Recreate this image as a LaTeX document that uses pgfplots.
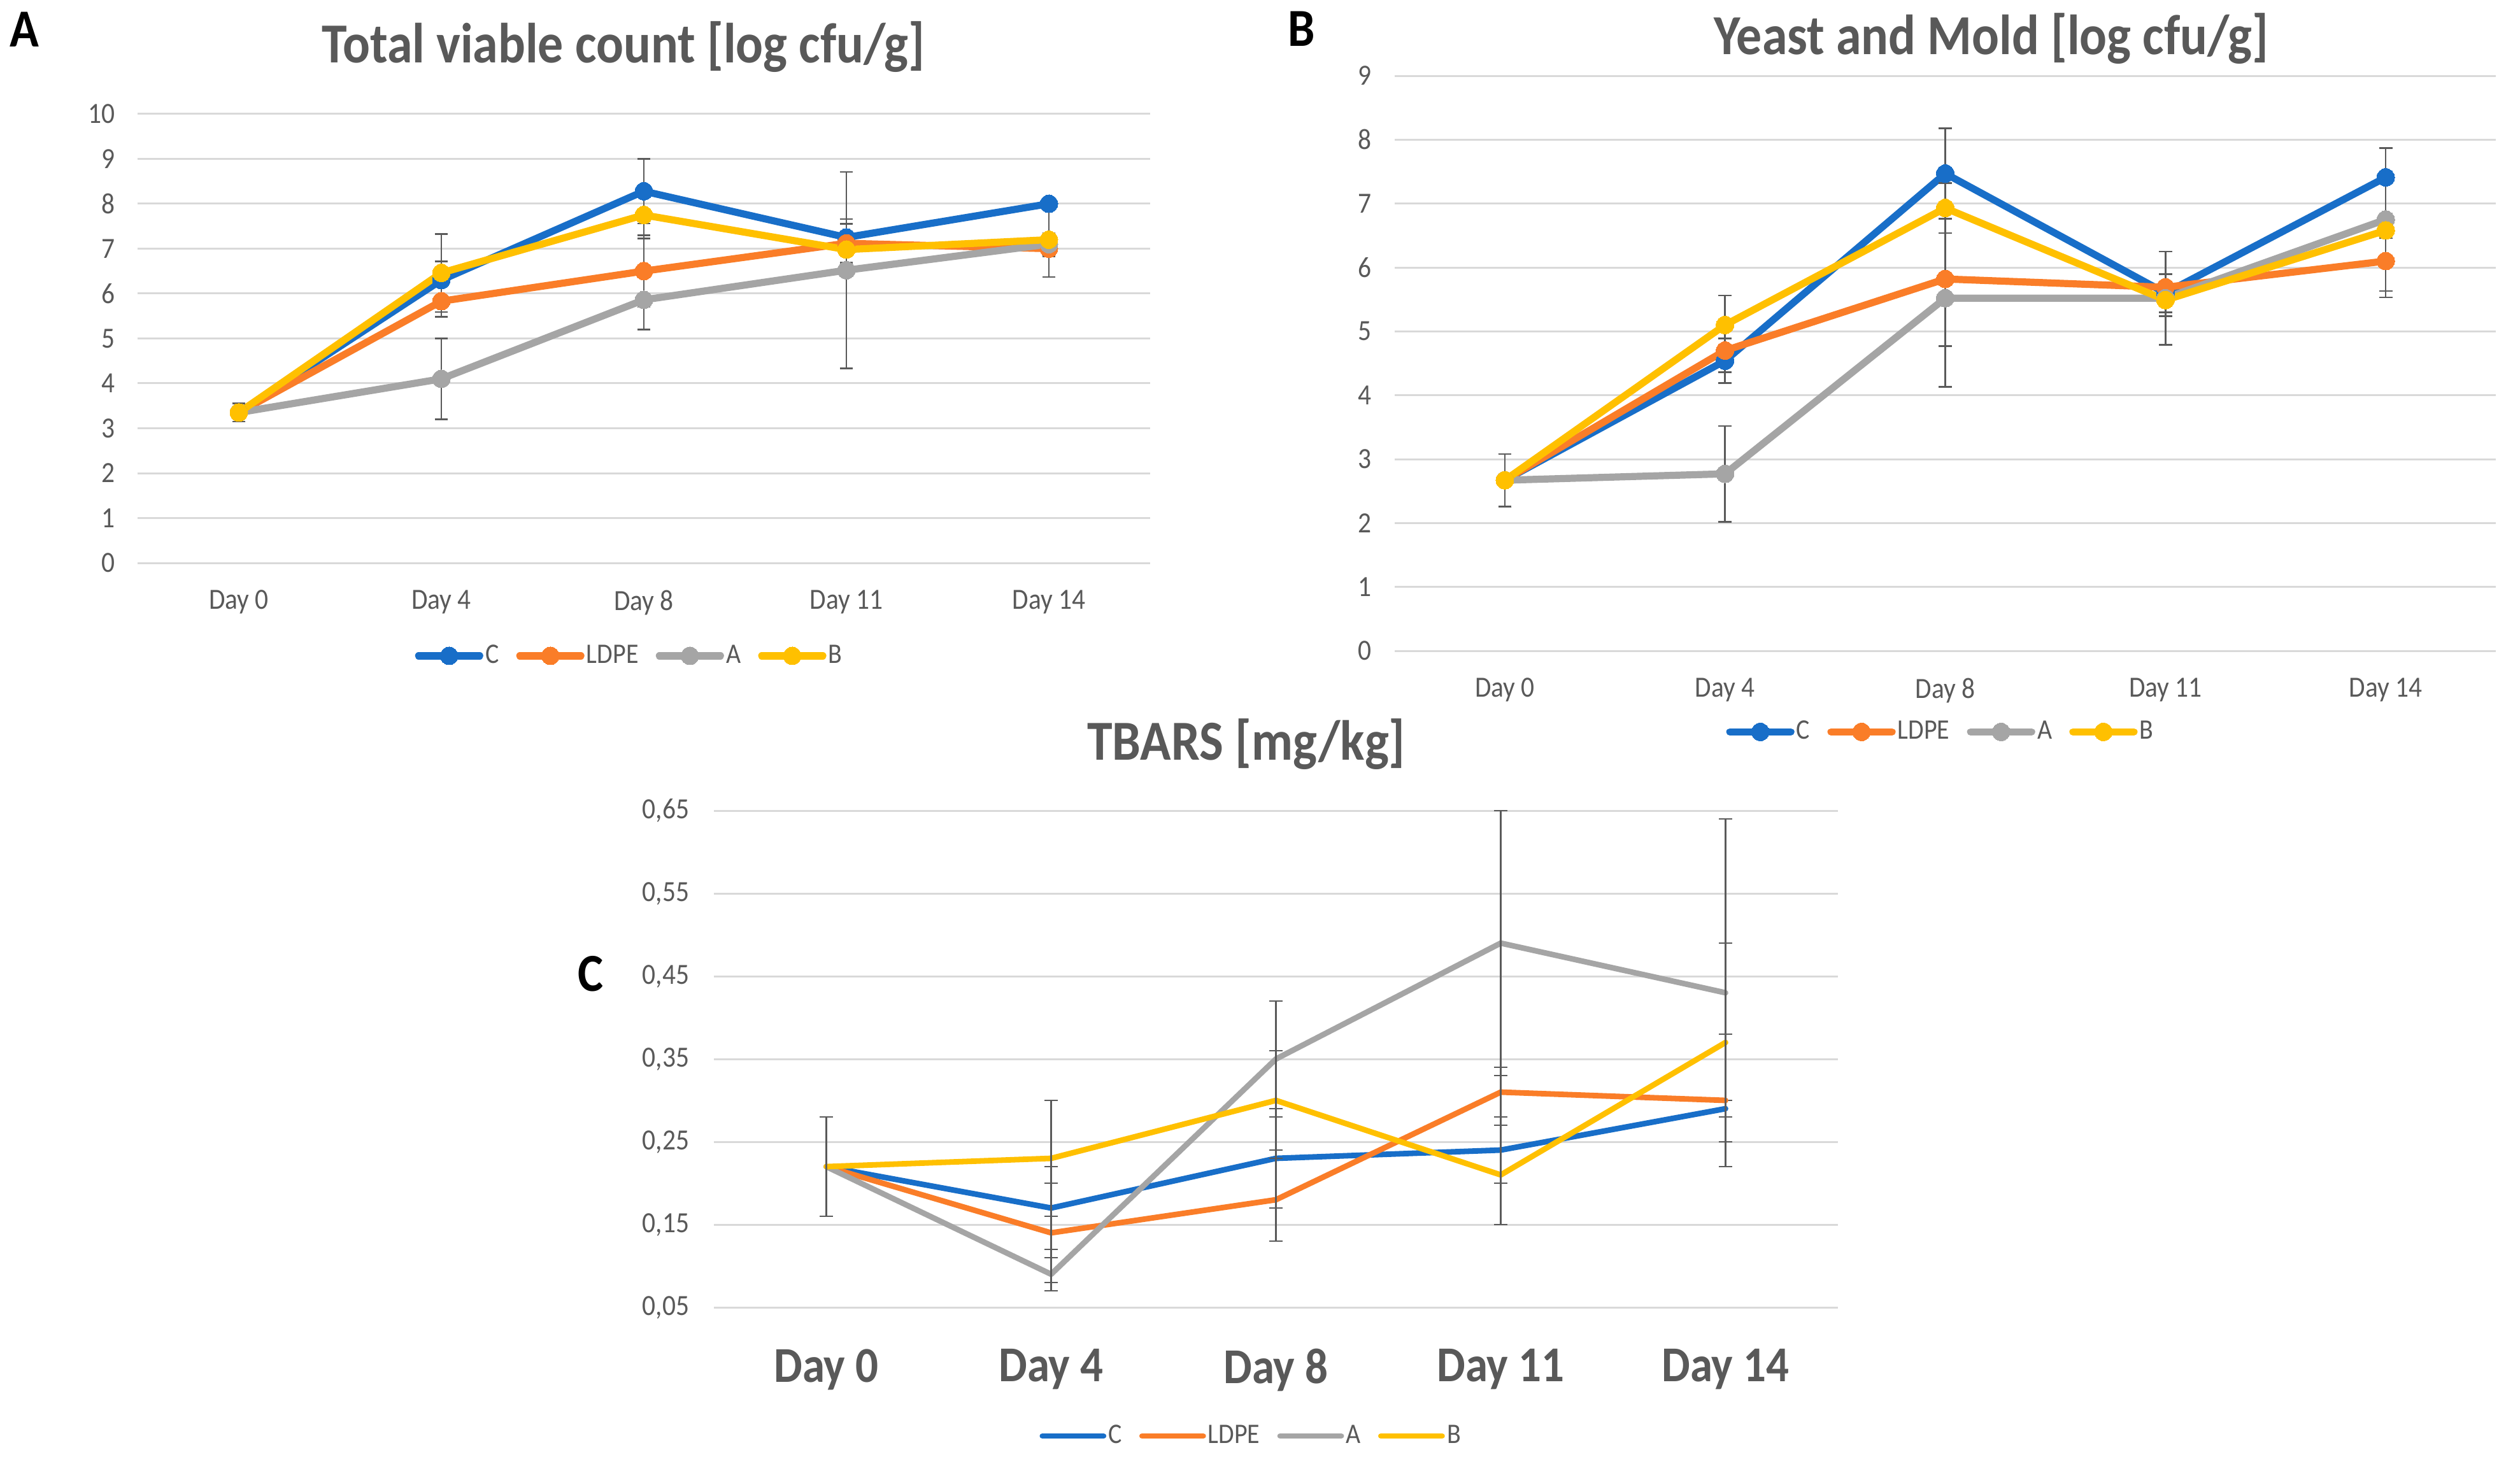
\documentclass[border=0pt]{standalone}
\usepackage{fontspec}
\setmainfont{Carlito}[FakeStretch=0.9]
\usepackage{pgfplots}
\pgfplotsset{compat=1.18}

\definecolor{cblue}{RGB}{24,110,200}
\definecolor{corange}{RGB}{250,125,40}
\definecolor{cgray}{RGB}{165,165,165}
\definecolor{cyellow}{RGB}{255,192,0}
\definecolor{gridgray}{RGB}{217,217,217}
\definecolor{labelgray}{RGB}{89,89,89}
\definecolor{errgray}{RGB}{90,90,90}

\pgfplotsset{
  panel/.style={
    scale only axis, anchor=south west, clip=false,
    xmin=-0.5, xmax=4.5, xtick={0,1,2,3,4},
    xticklabels={Day 0,Day 4,Day 8,Day 11,Day 14},
    axis line style={draw=none},
    major tick length=0pt,
    ymajorgrids, grid style={color=gridgray, line width=0.75pt},
    tick label style={text=labelgray, font=\fontsize{11.5}{13}\selectfont},
    /pgf/number format/assume math mode=true,
    legend columns=4,
    legend image code/.code={\draw[mark repeat=2,mark phase=2,##1] plot coordinates {(0pt,0pt) (12pt,0pt) (24pt,0pt)};},
    legend style={draw=none, fill=none, anchor=center,
      font=\fontsize{11.1}{13}\selectfont, text=labelgray,
      inner sep=0pt, nodes={inner sep=0.8pt},
      /tikz/every even column/.append style={column sep=6pt}},
    every axis plot/.append style={line width=2.8pt, line join=round, line cap=round},
  },
  dot/.style={color=#1, mark=*, mark size=3.5pt, mark options={fill=#1, draw=#1, line width=0pt}},
  eb/.style={error bars/.cd, y dir=both, y explicit,
    error bar style={color=errgray, line width=0.65pt, line cap=butt},
    error mark options={rotate=90, mark size=2.6pt, color=errgray, line width=0.65pt}},
}

\begin{document}
\begin{tikzpicture}
\useasboundingbox (0,0) rectangle (989.25pt,-574.75pt);
\fill[white] (0,0) rectangle (989.25pt,-574.75pt);

% A: total viable count
\begin{axis}[panel, at={(54pt,-221pt)}, width=397.5pt, height=176.25pt,
    ymin=0, ymax=10, ytick={0,1,...,10},
    xticklabel style={yshift=-7.2pt}, yticklabel style={xshift=-5.4pt},
    legend style={at={(0.486,-0.207)}}]
\addplot[dot=cblue, eb] coordinates {
  (0,3.35) +- (0,0.2) (1,6.30) +- (0,0.42) (2,8.28) +- (0,0.72) (3,7.25) +- (0,0.41) (4,8.00) +- (0,0.05)};
\addplot[dot=corange, eb] coordinates {
  (0,3.35) +- (0,0.2) (1,5.83) +- (0,0.35) (2,6.50) +- (0,0.80) (3,7.12) +- (0,0.43) (4,7.00) +- (0,0.18)};
\addplot[dot=cgray, eb] coordinates {
  (0,3.35) +- (0,0.2) (1,4.10) +- (0,0.90) (2,5.86) +- (0,0.66) (3,6.52) +- (0,2.19) (4,7.10) +- (0,0.24)};
\addplot[dot=cyellow, eb] coordinates {
  (0,3.35) +- (0,0.2) (1,6.46) +- (0,0.87) (2,7.75) +- (0,0.52) (3,6.98) +- (0,0.10) (4,7.20) +- (0,0.83)};
\legend{C,LDPE,A,B}
\end{axis}

% B: yeast and mold
\begin{axis}[panel, at={(547.5pt,-255.5pt)}, width=432.25pt, height=225.75pt,
    ymin=0, ymax=9, ytick={0,1,...,9},
    xticklabel style={yshift=-7.2pt}, yticklabel style={xshift=-5.7pt},
    legend style={at={(0.496,-0.141)}}]
\addplot[dot=cblue, eb] coordinates {
  (0,2.67) +- (0,0.41) (1,4.54) +- (0,0.35) (2,7.47) +- (0,0.71) (3,5.60) +- (0,0.30) (4,7.41) +- (0,0.08)};
\addplot[dot=corange, eb] coordinates {
  (0,2.67) +- (0,0.41) (1,4.70) +- (0,0.34) (2,5.82) +- (0,1.05) (3,5.69) +- (0,0.20) (4,6.10) +- (0,0.57)};
\addplot[dot=cgray, eb] coordinates {
  (0,2.67) +- (0,0.41) (1,2.77) +- (0,0.75) (2,5.52) +- (0,1.39) (3,5.52) +- (0,0.73) (4,6.75) +- (0,1.12)};
\addplot[dot=cyellow, eb] coordinates {
  (0,2.67) +- (0,0.41) (1,5.10) +- (0,0.46) (2,6.93) +- (0,0.39) (3,5.49) +- (0,0.25) (4,6.58) +- (0,0.12)};
\legend{C,LDPE,A,B}
\end{axis}

% C: TBARS
\begin{axis}[panel, at={(280.25pt,-513.25pt)}, width=441.25pt, height=195pt,
    ymin=0.05, ymax=0.65, ytick={0.05,0.15,0.25,0.35,0.45,0.55,0.65},
    scaled y ticks=false,
    /pgf/number format/fixed, /pgf/number format/fixed zerofill,
    /pgf/number format/precision=2, /pgf/number format/use comma,
    xticklabel style={font=\bfseries\fontsize{19.7}{22}\selectfont, yshift=-12.8pt},
    yticklabel style={xshift=-6.2pt},
    every axis plot/.append style={line width=2.2pt},
    legend style={at={(0.478,-0.259)}}]
\addplot[color=cblue, eb] coordinates {
  (0,0.22) +- (0,0.06) (1,0.17) +- (0,0.05) (2,0.23) +- (0,0.06) (3,0.24) +- (0,0.04) (4,0.29) +- (0,0.01)};
\addplot[color=corange, eb] coordinates {
  (0,0.22) +- (0,0.06) (1,0.14) +- (0,0.06) (2,0.18) +- (0,0.05) (3,0.31) +- (0,0.03) (4,0.30) +- (0,0.08)};
\addplot[color=cgray, eb] coordinates {
  (0,0.22) +- (0,0.06) (1,0.09) +- (0,0.02) (2,0.35) +- (0,0.07) (3,0.49) +- (0,0.16) (4,0.43) +- (0,0.21)};
\addplot[color=cyellow, eb] coordinates {
  (0,0.22) +- (0,0.06) (1,0.23) +- (0,0.07) (2,0.30) +- (0,0.06) (3,0.21) +- (0,0.06) (4,0.37) +- (0,0.12)};
\legend{C,LDPE,A,B}
\end{axis}

% titles and panel letters
\begin{scope}[every node/.style={inner sep=0pt, anchor=base}]
\node[text=labelgray, font=\bfseries\fontsize{22.2}{26}\selectfont] at (244.75pt,-24.75pt) {Total viable count [log cfu/g]};
\node[text=labelgray, font=\bfseries\fontsize{22.2}{26}\selectfont] at (781.75pt,-21.5pt) {Yeast and Mold [log cfu/g]};
\node[text=labelgray, font=\bfseries\fontsize{22.2}{26}\selectfont] at (489.25pt,-298.25pt) {TBARS [mg/kg]};
\node[anchor=base west, font=\bfseries\fontsize{21}{24}\selectfont] at (3.75pt,-18.5pt) {A};
\node[anchor=base west, font=\bfseries\fontsize{21}{24}\selectfont] at (505.5pt,-18.25pt) {B};
\node[anchor=base west, font=\bfseries\fontsize{21}{24}\selectfont] at (226.75pt,-389pt) {C};
\end{scope}
\end{tikzpicture}
\end{document}
